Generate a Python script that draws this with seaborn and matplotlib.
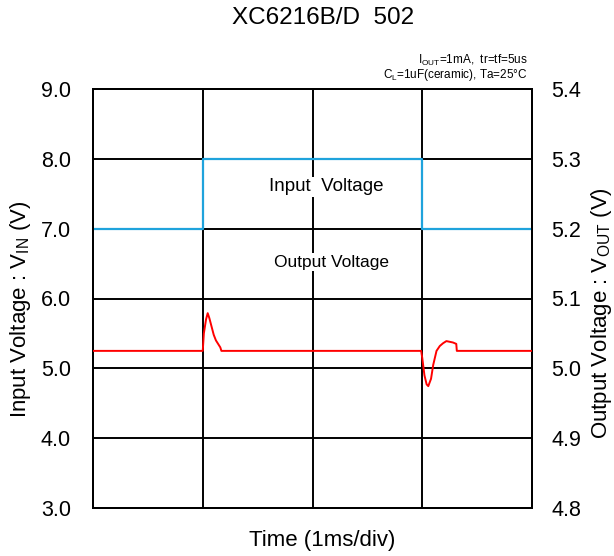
import matplotlib
matplotlib.use("Agg")
import matplotlib.pyplot as plt
import seaborn as sns
import pandas as pd

sns.set_theme(style="white")
plt.rcParams['font.family'] = ['Liberation Sans', 'DejaVu Sans']
plt.rcParams['mathtext.fontset'] = 'custom'
plt.rcParams['mathtext.rm'] = 'Liberation Sans'
plt.rcParams['mathtext.it'] = 'Liberation Sans'
plt.rcParams['mathtext.default'] = 'regular'
plt.rcParams['text.color'] = 'black'
plt.rcParams['axes.labelcolor'] = 'black'
plt.rcParams['xtick.color'] = 'black'
plt.rcParams['ytick.color'] = 'black'

# Data
in_time = [0.0, 1.0, 1.0, 3.0, 3.0, 4.0]
in_volt = [7.0, 7.0, 8.0, 8.0, 7.0, 7.0]

out_time = [0.0, 0.995, 1.0, 1.01, 1.03, 1.045, 1.06, 1.08, 1.10, 1.12, 1.14, 1.16, 1.17,
            2.99, 3.0, 3.02, 3.04, 3.055, 3.08, 3.10, 3.13, 3.16, 3.19, 3.22, 3.25, 3.28, 3.31, 3.315, 4.0]
out_volt = [5.025, 5.025, 5.025, 5.05, 5.07, 5.079, 5.072, 5.06, 5.048, 5.040, 5.035, 5.030, 5.025,
            5.025, 5.015, 4.99, 4.977, 4.9745, 4.985, 5.005, 5.025, 5.032, 5.036, 5.039, 5.038, 5.037, 5.035, 5.025, 5.025]

left_ticks = [3.0, 4.0, 5.0, 6.0, 7.0, 8.0, 9.0]
right_ticks = [4.8, 4.9, 5.0, 5.1, 5.2, 5.3, 5.4]
x_grid = [0, 1, 2, 3, 4]

df_in = pd.DataFrame({"t": in_time, "v": in_volt})
df_out = pd.DataFrame({"t": out_time, "v": out_volt})

fig = plt.figure(figsize=(6.14, 5.56), dpi=100)
ax = fig.add_axes([93/614, 1-508/556, (532-93)/614, (508-89)/556])
ax2 = ax.twinx()

sns.lineplot(data=df_in, x="t", y="v", ax=ax, sort=False, estimator=None,
             color="#1fa3dc", linewidth=1.6, zorder=5)
sns.lineplot(data=df_out, x="t", y="v", ax=ax2, sort=False, estimator=None,
             color="#ff0000", linewidth=1.4, zorder=5)

ax.set_xlim(0, 4)
ax.set_ylim(3, 9)
ax2.set_ylim(4.8, 5.4)
ax.set_xticks(x_grid)
ax.set_xticklabels([])
ax.set_yticks(left_ticks)
ax.set_yticklabels([f"{v:.1f}" for v in left_ticks], fontsize=15.5)
ax2.set_yticks(right_ticks)
ax2.set_yticklabels([f"{v:.1f}" for v in right_ticks], fontsize=15.5)
ax.tick_params(length=0, pad=16)
ax2.tick_params(length=0, pad=14)
ax.grid(True, color="black", linewidth=1.4)
ax2.grid(False)
for a in (ax, ax2):
    for s in a.spines.values():
        s.set_color("black")
        s.set_linewidth(1.4)

ax.set_xlabel("Time (1ms/div)", fontsize=16)
ax.xaxis.set_label_coords(0.523, -0.0764)
ax.xaxis.label.set_va("center")
ax.set_ylabel("Input Voltage : V$_{IN}$ (V)", fontsize=16)
ax.yaxis.set_label_coords(-0.165, 0.475)
ax.yaxis.label.set_va("center")
ax2.set_ylabel("Output Voltage : V$_{OUT}$ (V)", fontsize=16)
ax2.yaxis.set_label_coords(1.158, 0.465)
ax2.yaxis.label.set_va("center")

bbox = dict(facecolor="white", edgecolor="none", pad=1)
ax.text(2.127, 7.6, "Input  Voltage", fontsize=13.5, ha="center", va="center", bbox=bbox, zorder=3)
ax.text(2.17, 6.52, "Output Voltage", fontsize=12.5, ha="center", va="center", bbox=bbox, zorder=3)

fig.text(323/614, 1-18/556, "XC6216B/D  502", fontsize=17.5, ha="center", va="center")
fig.text(528/614, 1-60/556, "I$_{OUT}$=1mA,  tr=tf=5us", fontsize=8.5, ha="right", va="center")
fig.text(528/614, 1-75/556, "C$_{L}$=1uF(ceramic), Ta=25\u00b0C", fontsize=8.5, ha="right", va="center")

fig.savefig("out.png", dpi=100)
